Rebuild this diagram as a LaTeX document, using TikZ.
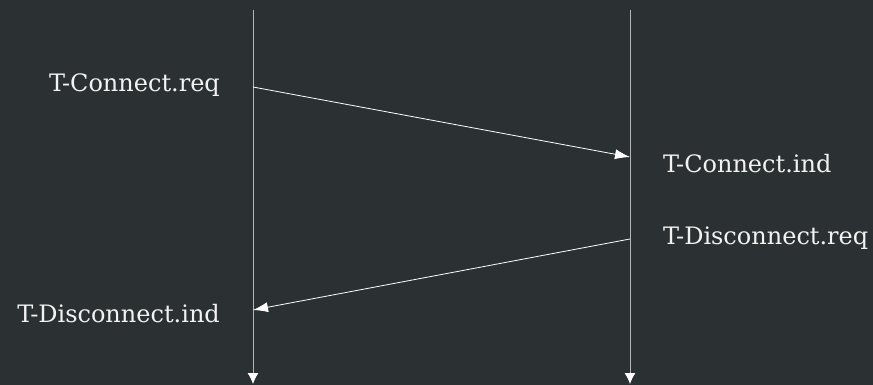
\documentclass[tikz,border=0pt]{standalone}
\usepackage{fontspec}
\setmainfont{DejaVu Serif}
\usetikzlibrary{arrows.meta,positioning}
\definecolor{bgdark}{HTML}{2B3133}
\definecolor{lifegray}{HTML}{B4B6B6}
\definecolor{txtlight}{HTML}{F2F2F2}

\begin{document}
\begin{tikzpicture}[
  x=1pt,y=-1pt,
  font=\fontsize{24}{28}\selectfont,
  lifeline/.style={draw=lifegray,line width=1pt,
                   -{Latex[length=11pt,width=11pt,color=white]}},
  msg/.style={draw=white,line width=0.8pt,-{Latex[length=15pt,width=10pt]}},
  prim/.style={text=txtlight,inner sep=0pt},
]
  \fill[bgdark] (0,0) rectangle (873,385);
  \useasboundingbox (0,0) rectangle (873,385);

  % lifelines
  \coordinate (la) at (253,10);
  \coordinate (lb) at (253,384);
  \coordinate (ra) at (630,10);
  \coordinate (rb) at (630,384);
  \draw[lifeline] (la) -- (lb);
  \draw[lifeline] (ra) -- (rb);

  % message end points
  \coordinate (c1) at (253,87);
  \coordinate (c2) at (630,157);
  \coordinate (d1) at (630,239);
  \coordinate (d2) at (253,310);

  \node[prim,anchor=base east] (creq) at (220,92) {T-Connect.req};
  \node[prim,anchor=base west] (cind) at (663,172) {T-Connect.ind};
  \node[prim,anchor=base west] (dreq) at (663,244) {T-Disconnect.req};
  \node[prim,anchor=base east] (dind) at (220,322) {T-Disconnect.ind};

  \draw[msg] (c1) -- (c2);
  \draw[msg] (d1) -- (d2);
\end{tikzpicture}
\end{document}
